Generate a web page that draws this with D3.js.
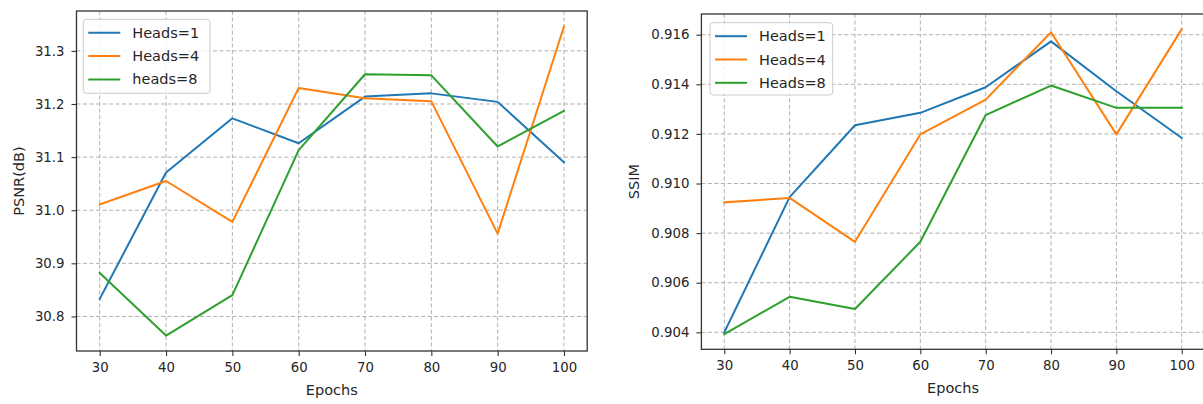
<!DOCTYPE html>
<html><head><meta charset="utf-8">
<script src="https://cdn.jsdelivr.net/npm/d3@7"></script>
<style>
body{margin:0;background:#fff;}
svg{display:block;font-family:"DejaVu Sans",sans-serif;}
</style></head>
<body><svg id="c" width="1203" height="404"></svg>
<script>
const epochs = [30,40,50,60,70,80,90,100];
const psnrHeads1 = [30.833,31.071,31.173,31.126,31.214,31.220,31.204,31.090];
const psnrHeads4 = [31.011,31.055,30.978,31.230,31.211,31.205,30.956,31.346];
const psnrHeads8 = [30.882,30.764,30.840,31.113,31.256,31.254,31.120,31.187];
const ssimHeads1 = [0.9040,0.90945,0.91235,0.91285,0.91388,0.91573,0.91372,0.91184];
const ssimHeads4 = [0.90924,0.90942,0.90765,0.91198,0.91338,0.91610,0.91198,0.91622];
const ssimHeads8 = [0.90393,0.90543,0.90494,0.90765,0.91276,0.91395,0.91305,0.91305];
const xTicks = [30,40,50,60,70,80,90,100];
const psnrTicks = [30.8,30.9,31.0,31.1,31.2,31.3];
const ssimTicks = [0.904,0.906,0.908,0.910,0.912,0.914,0.916];
const colors = ["#1f77b4","#ff7f0e","#2ca02c"];

const svg = d3.select("#c");

function panel(opt){
  const g = svg.append("g");
  const x = d3.scaleLinear().domain([26.5,103.5]).range([opt.left,opt.right]);
  const all = opt.series.flat();
  const lo = d3.min(all), hi = d3.max(all), m = (hi-lo)*0.05;
  const y = d3.scaleLinear().domain([lo-m,hi+m]).range([opt.bottom,opt.top]);
  // grid
  g.append("g").selectAll("line").data(xTicks).join("line")
    .attr("x1",d=>x(d)).attr("x2",d=>x(d)).attr("y1",opt.top).attr("y2",opt.bottom)
    .attr("stroke","#b0b0b0").attr("stroke-width",1).attr("stroke-dasharray","4,2.5");
  g.append("g").selectAll("line").data(opt.yTicks).join("line")
    .attr("y1",d=>y(d)).attr("y2",d=>y(d)).attr("x1",opt.left).attr("x2",opt.right)
    .attr("stroke","#b0b0b0").attr("stroke-width",1).attr("stroke-dasharray","4,2.5");
  // lines
  const line = d3.line().x((d,i)=>x(epochs[i])).y(d=>y(d));
  opt.series.forEach((s,i)=>{
    g.append("path").datum(s).attr("d",line).attr("fill","none")
      .attr("stroke",colors[i]).attr("stroke-width",2).attr("stroke-linejoin","round").attr("stroke-linecap","square");
  });
  // axes
  const xa = g.append("g").attr("transform",`translate(0,${opt.bottom})`)
    .call(d3.axisBottom(x).tickValues(xTicks).tickSize(5).tickPadding(6.5).tickFormat(d3.format("d")));
  const ya = g.append("g").attr("transform",`translate(${opt.left},0)`)
    .call(d3.axisLeft(y).tickValues(opt.yTicks).tickSize(5).tickPadding(7).tickFormat(d3.format(opt.fmt)));
  [xa,ya].forEach(a=>{
    a.select(".domain").remove();
    a.selectAll("line").attr("stroke","#333").attr("stroke-width",1.1);
    a.selectAll("text").attr("font-size",13.3).attr("fill","#262626").attr("font-family","DejaVu Sans");
  });
  // frame
  g.append("rect").attr("x",opt.left).attr("y",opt.top).attr("width",opt.right-opt.left).attr("height",opt.bottom-opt.top)
    .attr("fill","none").attr("stroke","#333").attr("stroke-width",1.3);
  // labels
  g.append("text").attr("x",(opt.left+opt.right)/2).attr("y",opt.bottom+44).attr("text-anchor","middle")
    .attr("font-size",14.5).attr("fill","#262626").text("Epochs");
  g.append("text").attr("transform",`translate(${opt.ylabX},${(opt.top+opt.bottom)/2}) rotate(-90)`)
    .attr("text-anchor","middle").attr("font-size",14.5).attr("fill","#262626").text(opt.ylab);
  // legend
  const L = opt.legend;
  g.append("rect").attr("x",L.x).attr("y",L.y).attr("width",L.w).attr("height",L.h).attr("rx",3)
    .attr("fill","#fff").attr("fill-opacity",0.8).attr("stroke","#ccc").attr("stroke-width",1);
  opt.names.forEach((n,i)=>{
    const yy = L.y+13.5+i*23.3;
    g.append("line").attr("x1",L.x+5).attr("x2",L.x+37).attr("y1",yy).attr("y2",yy)
      .attr("stroke",colors[i]).attr("stroke-width",2);
    g.append("text").attr("x",L.x+49).attr("y",yy).attr("dy","0.35em")
      .attr("font-size",14.5).attr("fill","#262626").text(n);
  });
}

panel({left:76.5,right:587.2,top:11,bottom:351,
  series:[psnrHeads1,psnrHeads4,psnrHeads8],yTicks:psnrTicks,fmt:".1f",
  ylab:"PSNR(dB)",ylabX:24,
  names:["Heads=1","Heads=4","heads=8"],
  legend:{x:83.3,y:19.3,w:126.7,h:74}});
panel({left:701.4,right:1204.6,top:14,bottom:349.3,
  series:[ssimHeads1,ssimHeads4,ssimHeads8],yTicks:ssimTicks,fmt:".3f",
  ylab:"SSIM",ylabX:639,
  names:["Heads=1","Heads=4","Heads=8"],
  legend:{x:710,y:22.7,w:122.7,h:72.3}});
</script></body></html>
